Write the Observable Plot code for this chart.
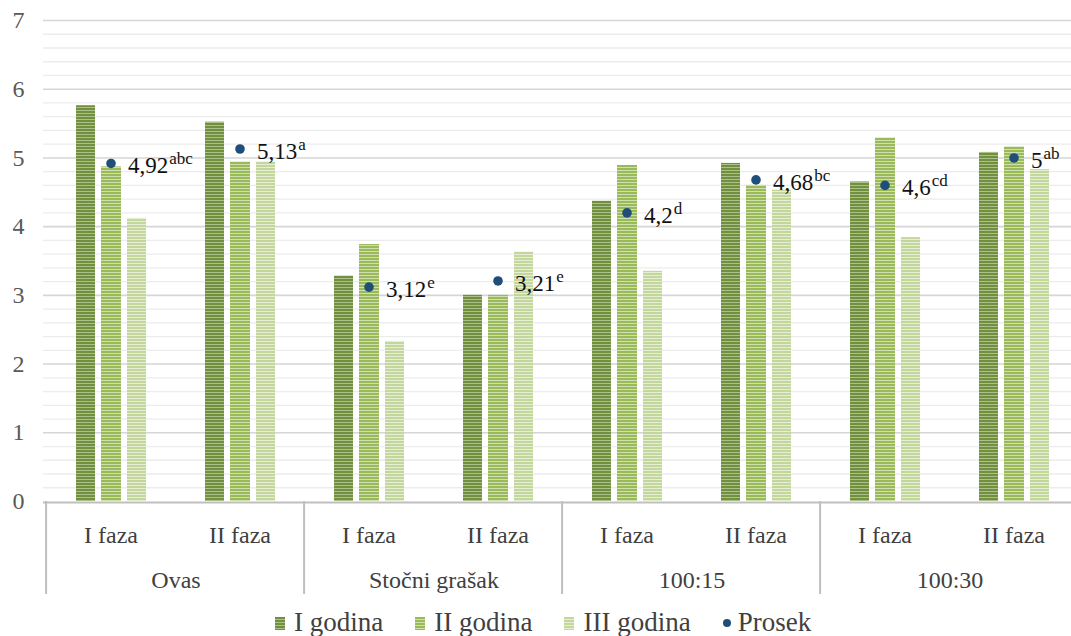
<!DOCTYPE html>
<html>
<head>
<meta charset="utf-8">
<script src="https://cdn.jsdelivr.net/npm/d3@7"></script>
<script src="https://cdn.jsdelivr.net/npm/@observablehq/plot@0.6"></script>
<style>
  html, body { margin: 0; padding: 0; background: #fff; overflow: hidden; }
  #chart svg { display: block; }
  #chart svg, #chart svg text { font-family: "Liberation Serif", "Times New Roman", Times, "Nimbus Roman", Tinos, "DejaVu Serif", serif !important; }
  #legend { display: flex; align-items: center; height: 36px; padding-left: 275px; padding-top: 4px;
    font-family: "Liberation Serif", "Times New Roman", Times, "Nimbus Roman", Tinos, "DejaVu Serif", serif; font-size: 27px; color: #404040; }
  .item { display: flex; align-items: center; margin-right: 32px; }
  .sw { width: 10px; height: 13px; margin-right: 9px; margin-top: 2px; }
  .dotsw { width: 8px; height: 8px; border-radius: 50%; background: #1f4e79; margin-right: 7px; margin-top: 2px; }
</style>
</head>
<body>
<div id="chart"></div>
<div id="legend"></div>
<script>
const groups = ["Ovas", "Stočni grašak", "100:15", "100:30"];
const phases = ["I faza", "II faza"];
const series = ["I godina", "II godina", "III godina"];
const iGodina   = [5.76, 5.52, 3.28, 3.00, 4.37, 4.92, 4.65, 5.08];
const iiGodina  = [4.87, 4.94, 3.74, 3.00, 4.89, 4.60, 5.29, 5.16];
const iiiGodina = [4.12, 4.94, 2.33, 3.63, 3.35, 4.53, 3.84, 4.83];
const prosek = [4.92, 5.13, 3.12, 3.21, 4.2, 4.68, 4.6, 5];
const prosekLabels = ["4,92", "5,13", "3,12", "3,21", "4,2", "4,68", "4,6", "5"];
const prosekLetters = ["abc", "a", "e", "e", "d", "bc", "cd", "ab"];
const yTicks = [0, 1, 2, 3, 4, 5, 6, 7];

const colors = [
  {base: "#728f40", light: "#aac18a"},
  {base: "#9aba5a", light: "#cfdfb0"},
  {base: "#c3d79c", light: "#e6eed6"}
];

const keys = [];
groups.forEach(g => phases.forEach(p => keys.push(g + "|" + p)));
const values = [iGodina, iiGodina, iiiGodina];
const bars = [];
keys.forEach((k, i) => series.forEach((s, j) => bars.push({key: k, series: s, value: values[j][i]})));
const means = keys.map((k, i) => ({key: k, value: prosek[i], label: prosekLabels[i] + "|" + prosekLetters[i]}));
const groupStarts = groups.map(g => g + "|" + phases[0]);

const font = "'Liberation Serif', 'Times New Roman', Times, serif";
const insets = [[30, 80], [55, 54], [81, 29]];

const plot = Plot.plot({
  width: 1071,
  height: 600,
  marginTop: 20,
  marginBottom: 99,
  marginLeft: 43,
  marginRight: 0,
  style: {fontFamily: font, background: "#fff"},
  x: {type: "band", domain: keys, range: [43, 1081], padding: 0},
  y: {domain: [0, 7]},
  marks: [
    Plot.gridY(d3.range(0, 7.01, 0.2).filter(v => Math.abs(v - Math.round(v)) > 1e-6), {stroke: "#ececec", strokeOpacity: 1, strokeWidth: 1.3}),
    Plot.gridY(yTicks.slice(1), {stroke: "#d6d6d6", strokeOpacity: 1, strokeWidth: 1.6}),
    ...series.map((s, j) => Plot.barY(bars.filter(d => d.series === s), {
      x: "key", y: "value", fill: `url(#stripe${j})`,
      insetLeft: insets[j][0], insetRight: insets[j][1]
    })),
    Plot.ruleY([0], {stroke: "#bfbfbf", strokeWidth: 2, dy: 1}),
    Plot.ruleX(groupStarts, {x: d => d, dx: -64.9, stroke: "#bfbfbf", strokeWidth: 2, insetTop: 481, insetBottom: -93}),
    Plot.dot(means, {x: "key", y: "value", r: 4.8, fill: "#1f4e79", stroke: "none"}),
    Plot.text(means, {x: "key", y: "value", text: "label", textAnchor: "start", lineAnchor: "middle",
      dx: 17, dy: 2.5, fontSize: 23, fill: "#111", className: "mlabel"}),
    Plot.axisY(yTicks, {tickSize: 0, tickPadding: 19, fontSize: 24, fill: "#595959", label: null,
      tickFormat: d => String(d)}),
    Plot.axisX({tickSize: 0, tickPadding: 24, fontSize: 24, fill: "#404040", label: null,
      tickFormat: d => d.split("|")[1]}),
    Plot.text(groupStarts, {x: d => d, text: d => d.split("|")[0], frameAnchor: "bottom",
      lineAnchor: "top", dx: 65, dy: 69, fontSize: 24, fill: "#404040"})
  ]
});

// stripe patterns for bars
const svg = d3.select(plot);
const defs = svg.insert("defs", ":first-child");
colors.forEach((c, j) => {
  const p = defs.append("pattern").attr("id", "stripe" + j)
    .attr("patternUnits", "userSpaceOnUse").attr("width", 6).attr("height", 3);
  p.append("rect").attr("width", 6).attr("height", 3).attr("fill", c.base);
  p.append("rect").attr("y", 2).attr("width", 6).attr("height", 1).attr("fill", c.light);
});

// superscript letters on mean labels
svg.selectAll("g.mlabel text").each(function() {
  const t = d3.select(this);
  const parts = t.text().split("|");
  t.text(parts[0]);
  t.append("tspan").attr("dy", -9).attr("dx", 1).attr("font-size", 17).text(parts[1]);
});

document.getElementById("chart").appendChild(plot);

// legend
const legend = d3.select("#legend");
series.forEach((s, j) => {
  const it = legend.append("div").attr("class", "item");
  it.append("div").attr("class", "sw")
    .style("background", `repeating-linear-gradient(to bottom, ${colors[j].base} 0 2px, ${colors[j].light} 2px 3px)`);
  it.append("span").text(s);
});
const pi = legend.append("div").attr("class", "item");
pi.append("div").attr("class", "dotsw");
pi.append("span").text("Prosek");
</script>
</body>
</html>
